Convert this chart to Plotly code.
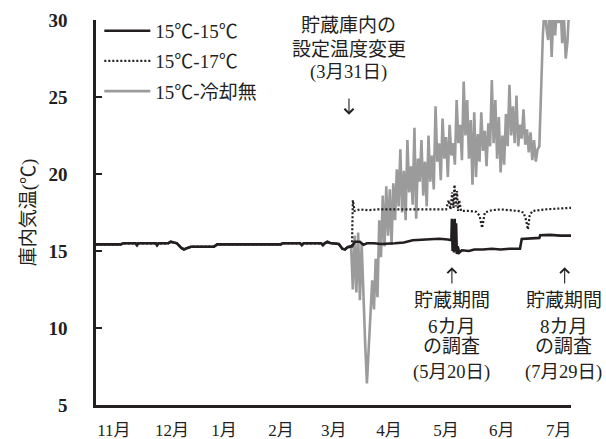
import plotly.graph_objects as go

# 記録位置(11月1日起点の経過日数)と庫内気温(℃)
# 3月31日までは3区とも15℃設定で共通の推移
pre_day = [0, 14, 15.5, 22.5, 23.3, 24, 34, 34.7, 35.5, 41, 42.5, 44, 46, 48.5,
           50, 52, 54, 67, 69, 105, 106, 116, 117, 118, 128, 129, 130, 131.5,
           133, 138, 140, 141.5, 143, 145]
pre_temp = [15.43, 15.43, 15.5, 15.5, 15.38, 15.5, 15.5, 15.38, 15.5, 15.5, 15.6,
            15.55, 15.5, 15.2, 15.1, 15.2, 15.28, 15.28, 15.43, 15.43, 15.5, 15.5,
            15.38, 15.5, 15.5, 15.38, 15.5, 15.6, 15.52, 15.45, 15.15, 15.1,
            15.25, 15.3]

# 15℃-15℃ (設定変更後)
s15_day = [145.5, 147, 150, 152, 154, 158, 162, 170, 175, 180, 190, 195, 200,
           202, 202.3, 202.7, 203.1, 203.5, 203.9, 204.3, 204.7, 205.1, 205.6,
           206.5, 208, 212, 215, 220, 225, 230, 235, 241, 242, 248, 252, 252.5,
           258, 264, 270]
s15_temp = [15.3, 15.6, 15.6, 15.4, 15.5, 15.5, 15.45, 15.5, 15.55, 15.7, 15.75,
            15.8, 15.75, 15.7, 17.1, 15.0, 17.0, 14.9, 17.1, 15.0, 16.8, 14.8,
            15.3, 14.9, 15.05, 15.0, 15.1, 15.1, 15.15, 15.1, 15.15, 15.15,
            15.78, 15.8, 15.85, 16.02, 16.05, 16.0, 16.0]

# 15℃-17℃ (設定変更後)
s17_day = [145.5, 146, 147, 150, 155, 160, 170, 180, 190, 199, 200.5, 201.5,
           202.5, 203.2, 203.8, 204.5, 205.2, 205.8, 206.5, 207.5, 212, 216,
           218, 219.5, 221, 225, 230, 235, 240, 243, 244.5, 245.5, 246.5, 248,
           255, 262, 270]
s17_temp = [15.3, 18.3, 17.6, 17.7, 17.65, 17.7, 17.7, 17.68, 17.7, 17.7, 18.3,
            17.7, 18.8, 17.8, 19.3, 17.9, 18.9, 17.6, 18.3, 17.6, 17.6, 17.55,
            17.3, 16.5, 17.5, 17.65, 17.7, 17.65, 17.6, 17.5, 17.0, 16.4, 17.3,
            17.6, 17.7, 17.75, 17.8]

# 15℃-冷却無 (設定変更後, 146日目から1日ごと)
nc_start = 146
nc_temp = [12.5, 16.0, 12.3, 16.2, 11.8, 15.5, 11.5, 9.0, 6.4, 8.5,
           11.2, 13.1, 11.2, 14.5, 12.0, 17.0, 14.6, 18.6, 15.3, 19.2,
           16.0, 19.0, 15.4, 19.4, 17.0, 20.3, 17.9, 21.6, 17.5, 20.2,
           17.0, 22.2, 18.8, 20.5, 18.0, 23.0, 17.1, 21.0, 19.5, 22.2,
           18.6, 20.8, 17.9, 22.5, 19.5, 21.2, 19.0, 24.4, 20.8, 22.0,
           19.6, 23.6, 21.0, 22.4, 19.8, 23.2, 21.2, 22.0, 20.6, 24.8,
           22.0, 23.2, 20.9, 26.0, 22.5, 24.8, 21.0, 23.5, 19.3, 24.0,
           19.8, 22.6, 20.8, 24.0, 21.5, 22.8, 20.5, 23.3, 21.8, 26.1,
           22.0, 24.8, 21.0, 23.7, 20.1, 22.5, 20.6, 23.9, 21.8, 25.8,
           22.5, 24.4, 22.0, 25.1, 21.8, 23.2, 22.3, 24.2, 21.9, 22.9,
           21.4, 22.7, 20.9, 22.2, 20.8, 21.6, 21.8, 26.0, 29.0, 31.0,
           29.5, 28.7, 31.0, 27.6, 30.5, 29.0, 31.0, 29.8, 31.0, 28.5,
           30.2, 27.5, 28.6, 31.0, 30.0]
nc_day = list(range(nc_start, nc_start + len(nc_temp)))

month_pos = [10.2, 43.2, 72.7, 105.1, 135.2, 166.5, 198.9, 230.7, 263.1]
month_labels = ["11月", "12月", "1月", "2月", "3月", "4月", "5月", "6月", "7月"]
y_ticks = [5, 10, 15, 20, 25, 30]

FONT = "Liberation Serif, 'Noto Sans CJK JP', serif"
INK = "#231f20"

fig = go.Figure()
fig.add_trace(go.Scatter(
    x=pre_day + nc_day, y=pre_temp + nc_temp, mode="lines", name="15℃-冷却無",
    line=dict(color="#9b9b9b", width=2.6), legendgroup="c", legendrank=3))
fig.add_trace(go.Scatter(
    x=pre_day + s17_day, y=pre_temp + s17_temp, mode="lines", name="15℃-17℃",
    line=dict(color=INK, width=2.2, dash="2px,2px"), legendgroup="b", legendrank=2))
fig.add_trace(go.Scatter(
    x=pre_day + s15_day, y=pre_temp + s15_temp, mode="lines", name="15℃-15℃",
    line=dict(color=INK, width=2.6), legendgroup="a", legendrank=1))


def note(x, y, text, size=19):
    fig.add_annotation(x=x, y=y, xref="x", yref="y", text=text, showarrow=False,
                       font=dict(family=FONT, size=size, color=INK),
                       xanchor="center", yanchor="middle")


def pointer(x, tail, tip):
    fig.add_annotation(x=x, y=tip, ax=x, ay=tail, xref="x", yref="y",
                       axref="x", ayref="y", text="", showarrow=True,
                       arrowhead=4, arrowsize=1.6, arrowwidth=1.1,
                       arrowcolor=INK, standoff=0, startstandoff=0)


# 設定温度変更の注記
note(143.8, 29.65, "貯蔵庫内の")
note(143.8, 28.1, "設定温度変更")
note(143.8, 26.6, "(3月31日)", 18.5)
pointer(143.8, 25.0, 23.85)

# 調査時期の注記
for xc, label, date in [(202.3, "6カ月", "(5月20日)"), (265.8, "8カ月", "(7月29日)")]:
    pointer(xc + 0.6 if xc > 260 else xc, 12.8, 13.95)
    note(xc, 11.8, "貯蔵期間")
    note(xc, 10.13, label)
    note(xc, 8.77, "の調査")
    note(xc, 7.08, date, 18.5)

fig.update_layout(
    width=606, height=439,
    margin=dict(l=96, r=35, t=20, b=34),
    paper_bgcolor="white", plot_bgcolor="white",
    font=dict(family=FONT, size=18, color=INK),
    showlegend=True,
    legend=dict(x=0.007, y=1.021, xanchor="left", yanchor="top",
                bgcolor="rgba(0,0,0,0)", tracegroupgap=2.5, itemwidth=46,
                font=dict(family=FONT, size=19, color=INK)),
    xaxis=dict(range=[0, 270], showline=True, linecolor=INK, linewidth=2.5,
               showgrid=False, zeroline=False, ticks="", automargin=False,
               tickmode="array", tickvals=month_pos, ticktext=month_labels,
               tickfont=dict(family=FONT, size=17, color=INK),
               ticklabelstandoff=8),
    yaxis=dict(range=[5, 30], showline=True, linecolor=INK, linewidth=2.5,
               showgrid=False, zeroline=False, ticks="inside", ticklen=6,
               tickwidth=2, tickcolor=INK, tickmode="array", tickvals=y_ticks,
               tickfont=dict(family=FONT, size=19, color=INK, weight="bold"),
               ticklabelstandoff=22, automargin=False,
               title=dict(text="庫内気温(℃)", standoff=8,
                          font=dict(family=FONT, size=19, color=INK))),
)

fig.write_html("out.html")
